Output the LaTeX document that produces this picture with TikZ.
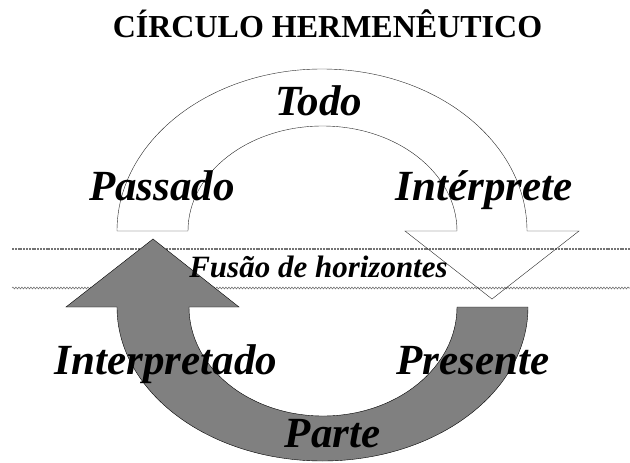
\documentclass[tikz,border=0pt]{standalone}
\usepackage{fontspec}
\setmainfont{Liberation Serif}
\usetikzlibrary{decorations.pathmorphing}
\tikzset{%
      titulo/.style={anchor=base, inner sep=0pt, font=\fontsize{32}{36}\selectfont\bfseries},
      rotulo/.style={anchor=base, inner sep=0pt, font=\fontsize{43}{48}\selectfont\bfseries\itshape},
      fusao/.style={rotulo, font=\fontsize{31}{34}\selectfont\bfseries\itshape},
      arcotodo/.style={draw, thin, color=black!85},
      arcoparte/.style={draw=black, thin, fill=black!50},
      horizonte/.style={draw=black!55, line width=2.6pt, dash pattern=on 2pt off 0.8pt},
      ondas/.style={draw=black!55, line width=0.6pt, decorate, decoration={snake, amplitude=0.9pt, segment length=3pt}},
    }

\begin{document}
\begin{tikzpicture}[x=1pt, y=-1pt]
      \useasboundingbox (0,0) rectangle (630,463);

      % Draw horizon lines
      \coordinate (h1) at (12,249);
      \coordinate (h2) at (630,249);
      \coordinate (h3) at (12,288);
      \coordinate (h4) at (630,288);
      \path [horizonte] (h1) -- (h2);
      \path [ondas] (h3) -- (h4);

      % Draw the two curved arrows
      \path [arcotodo] (117,231) arc (180:0:205pt and 162pt) -- (579,231) -- (492,299) -- (405,231) -- (457,231) arc (0:180:134.5pt and 105pt) -- cycle;
      \path [arcoparte] (528,307) arc (0:-180:205.5pt and 154pt) -- (66,307) -- (153,239) -- (239,307) -- (189,307) arc (-180:0:134pt and 109pt) -- cycle;

      % Draw labels
      \node (titulo) [titulo] at (327.5,37) {CÍRCULO HERMENÊUTICO};
      \node (todo) [rotulo] at (319,115) {Todo};
      \node (passado) [rotulo] at (162,200) {Passado};
      \node (interprete) [rotulo] at (484,200) {Intérprete};
      \node (fusao) [fusao] at (318.5,277) {Fusão de horizontes};
      \node (interpretado) [rotulo] at (166,374) {Interpretado};
      \node (presente) [rotulo] at (473,374) {Presente};
      \node (parte) [rotulo] at (332.5,447) {Parte};

\end{tikzpicture}
\end{document}
